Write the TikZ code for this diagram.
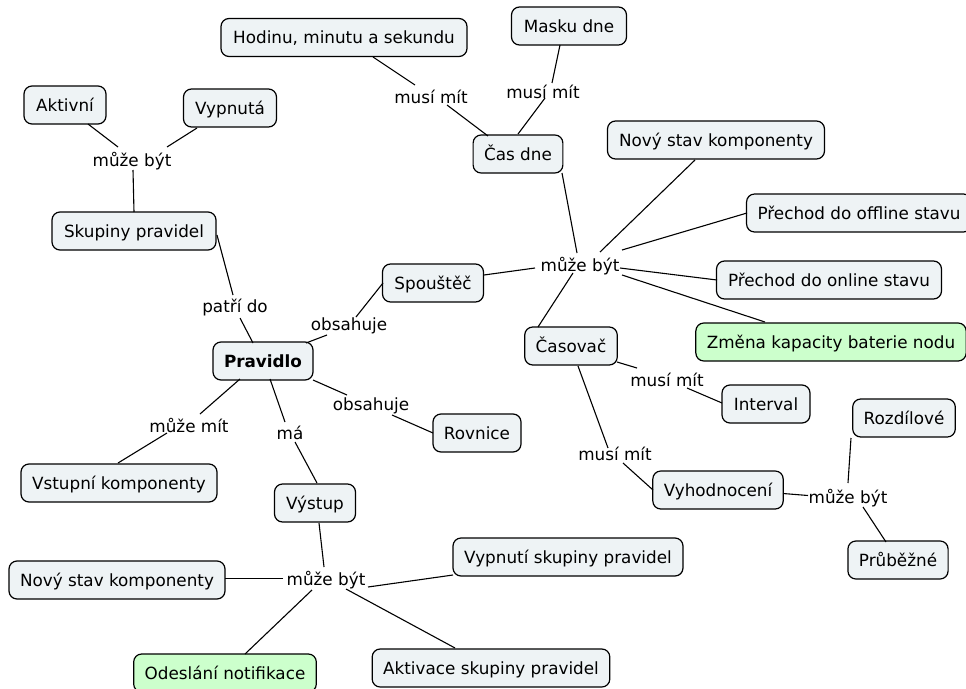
\documentclass[tikz,border=0pt]{standalone}
\usepackage{fontspec}
\setmainfont{DejaVu Sans}
\usetikzlibrary{calc}
\begin{document}
\begin{tikzpicture}[x=1pt,y=-1pt,
  concept/.style={draw=black, line width=1.2pt, rounded corners=8pt, fill=boxfill,
    font=\fontsize{16.8}{19}\selectfont, inner xsep=11pt, inner ysep=0pt,
    minimum height=38pt, text height=12.2pt, text depth=0pt},
  hot/.style={concept, fill=greenfill},
  link/.style={font=\fontsize{16.8}{19}\selectfont, inner sep=1pt, text height=12.5pt, text depth=0pt},
  edge/.style={line width=1.1pt}]
\definecolor{boxfill}{HTML}{EEF3F5}
\definecolor{greenfill}{HTML}{CCFFCC}
\useasboundingbox (0,0) rectangle (966,688);
\fill[white] (0,0) rectangle (966,688);

% concepts
\node[concept, minimum width=246pt] (hms) at (344,37.5) {Hodinu, minutu a sekundu};
\node[concept, minimum width=115pt] (mask) at (569,26) {Masku dne};
\node[concept, minimum width=89pt] (cas) at (518,154) {Čas dne};
\node[concept, minimum width=82pt] (akt) at (65,105) {Aktivní};
\node[concept, minimum width=93pt] (vyp) at (230,108) {Vypnutá};
\node[concept, minimum width=164pt] (skup) at (134,231) {Skupiny pravidel};
\node[concept, minimum width=217pt] (nstav1) at (716,140) {Nový stav komponenty};
\node[concept, minimum width=224pt] (off) at (859,213) {Přechod do offline stavu};
\node[concept, minimum width=225pt] (on) at (829,280) {Přechod do online stavu};
\node[hot, minimum width=270pt] (bat) at (831,342) {Změna kapacity baterie nodu};
\node[concept, minimum width=101pt] (spou) at (433,283) {Spouštěč};
\node[concept, minimum width=100pt, font=\fontsize{16.8}{19}\selectfont\bfseries] (prav) at (263,361) {Pravidlo};
\node[concept, minimum width=88pt] (rov) at (477,433) {Rovnice};
\node[concept, minimum width=196pt] (vstup) at (119,483) {Vstupní komponenty};
\node[concept, minimum width=81pt] (vystup) at (315,503) {Výstup};
\node[concept, minimum width=92pt] (casov) at (571,346) {Časovač};
\node[concept, minimum width=88pt] (int) at (766,404) {Interval};
\node[concept, minimum width=130pt] (vyh) at (718,490) {Vyhodnocení};
\node[concept, minimum width=102pt] (rozd) at (904,418) {Rozdílové};
\node[concept, minimum width=100pt] (prub) at (898,560) {Průběžné};
\node[concept, minimum width=230pt] (vypsk) at (568,557) {Vypnutí skupiny pravidel};
\node[concept, minimum width=216pt] (nstav2) at (117,580) {Nový stav komponenty};
\node[hot, minimum width=182pt] (notif) at (225,673) {Odeslání notifikace};
\node[concept, minimum width=236pt] (aktsk) at (491,668) {Aktivace skupiny pravidel};

% linking phrases
\node[link] (l1) at (431,97) {musí mít};
\node[link] (l2) at (543,92) {musí mít};
\node[link] (l3) at (132,160) {může být};
\node[link] (l4) at (580,265) {může být};
\node[link] (l5) at (235,306) {patří do};
\node[link] (l6) at (349,324) {obsahuje};
\node[link] (l7) at (371,404) {obsahuje};
\node[link] (l8) at (189,426) {může mít};
\node[link] (l9) at (290,433) {má};
\node[link] (l10) at (667,380) {musí mít};
\node[link] (l11) at (615,454) {musí mít};
\node[link] (l12) at (848,497) {může být};
\node[link] (l13) at (326,579) {může být};

% connections
\draw[edge] ($(hms)+(29,19.5)$) -- ($(l1)+(-16,-12)$);
\draw[edge] ($(l1)+(16,8)$) -- ($(cas)+(-30,-18)$);
\draw[edge] ($(mask)+(-9,19)$) -- ($(l2)+(9,-9)$);
\draw[edge] ($(l2)+(2,6)$) -- ($(cas)+(0,-20)$);
\draw[edge] ($(l3)+(-14,-13)$) -- ($(akt)+(23,19)$);
\draw[edge] ($(l3)+(35,-13)$) -- ($(vyp)+(-33,20)$);
\draw[edge] ($(l3)+(1,10)$) -- ($(skup)+(0,-19)$);
\draw[edge] ($(skup)+(83,4)$) -- ($(l5)+(-2,-11)$);
\draw[edge] ($(l5)+(5,12)$) -- ($(prav)+(-10,-18)$);
\draw[edge] ($(prav)+(43,-18)$) -- ($(l6)+(-22,11)$);
\draw[edge] ($(l6)+(7,-7)$) -- ($(spou)+(-50,0)$);
\draw[edge] ($(prav)+(50,19)$) -- ($(l7)+(-24,-9)$);
\draw[edge] ($(l7)+(21,11)$) -- ($(rov)+(-44,0)$);
\draw[edge] ($(prav)+(-23,18)$) -- ($(l8)+(11,-12)$);
\draw[edge] ($(l8)+(-22,7)$) -- ($(vstup)+(-1,-20)$);
\draw[edge] ($(prav)+(7,18)$) -- ($(l9)+(-5,-11)$);
\draw[edge] ($(l9)+(5,9)$) -- ($(vystup)+(2,-20)$);
\draw[edge] ($(spou)+(51,-8)$) -- ($(l4)+(-45,3)$);
\draw[edge] ($(l4)+(-3,-12)$) -- ($(cas)+(44,19)$);
\draw[edge] ($(l4)+(20,-13)$) -- ($(nstav1)+(-21,20)$);
\draw[edge] ($(l4)+(42,-15)$) -- ($(off)+(-112,0)$);
\draw[edge] ($(l4)+(40,3)$) -- ($(on)+(-112,0)$);
\draw[edge] ($(l4)+(42,10)$) -- ($(bat)+(-66,-20)$);
\draw[edge] ($(l4)+(-7,8)$) -- ($(casov)+(-33,-19)$);
\draw[edge] ($(casov)+(46,16)$) -- ($(l10)+(-30,-12)$);
\draw[edge] ($(l10)+(20,8)$) -- ($(int)+(-44,-1)$);
\draw[edge] ($(casov)+(7,20)$) -- ($(l11)+(-7,-6)$);
\draw[edge] ($(l11)+(8,9)$) -- ($(vyh)+(-65,0)$);
\draw[edge] ($(vyh)+(65,3.5)$) -- ($(l12)+(-40,-1.5)$);
\draw[edge] ($(l12)+(0,-14)$) -- ($(rozd)+(-53,20)$);
\draw[edge] ($(l12)+(15,10)$) -- ($(prub)+(-12,-18)$);
\draw[edge] ($(vystup)+(4,20)$) -- ($(l13)+(-2,-12)$);
\draw[edge] ($(l13)+(-43,-0.5)$) -- ($(nstav2)+(108,-1.5)$);
\draw[edge] ($(l13)+(42,8)$) -- ($(vypsk)+(-115,18)$);
\draw[edge] ($(l13)+(-14,11)$) -- ($(notif)+(20,-19)$);
\draw[edge] ($(l13)+(20,10)$) -- ($(aktsk)+(-36,-20)$);
\end{tikzpicture}
\end{document}
